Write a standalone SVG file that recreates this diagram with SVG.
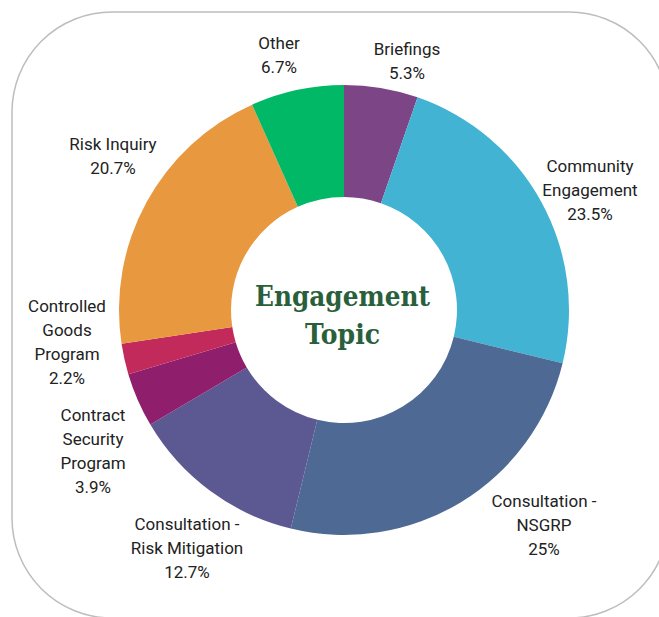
<svg xmlns="http://www.w3.org/2000/svg" width="659" height="617" viewBox="0 0 659 617">
<style>
.lbl{font-family:Roboto,"Liberation Sans",sans-serif;font-size:17px;fill:#222;text-anchor:middle}
.title{font-family:"DejaVu Serif","Liberation Serif",serif;font-weight:bold;font-size:27px;fill:#2a5f3c;text-anchor:middle}
</style>
<rect x="0" y="0" width="659" height="617" fill="#fff"/>
<rect x="12" y="12" width="657" height="606" rx="100" ry="100" fill="#fff" stroke="#bdbdbd" stroke-width="1.5"/>
<g id="slices">
<g id="briefings"><path d="M344,85 A225,225 0 0 1 417.55,97.35 L380.94,203.20 A113,113 0 0 0 344,197 Z" fill="#7b4586"/></g>
<g id="community"><path d="M417.55,97.35 A225,225 0 0 1 562.62,363.21 L453.79,336.72 A113,113 0 0 0 380.94,203.20 Z" fill="#42b3d3"/></g>
<g id="nsgrp"><path d="M562.62,363.21 A225,225 0 0 1 290.79,528.62 L317.28,419.79 A113,113 0 0 0 453.79,336.72 Z" fill="#4e6a94"/></g>
<g id="riskmitigation"><path d="M290.79,528.62 A225,225 0 0 1 150.33,424.53 L246.74,367.52 A113,113 0 0 0 317.28,419.79 Z" fill="#5c5891"/></g>
<g id="contractsecurity"><path d="M150.33,424.53 A225,225 0 0 1 128.33,374.13 L235.69,342.21 A113,113 0 0 0 246.74,367.52 Z" fill="#8f1f6c"/></g>
<g id="controlledgoods"><path d="M128.33,374.13 A225,225 0 0 1 121.55,343.80 L232.28,326.98 A113,113 0 0 0 235.69,342.21 Z" fill="#c12a5b"/></g>
<g id="riskinquiry"><path d="M121.55,343.80 A225,225 0 0 1 252.06,104.64 L297.82,206.86 A113,113 0 0 0 232.28,326.98 Z" fill="#e8983f"/></g>
<g id="other"><path d="M252.06,104.64 A225,225 0 0 1 344,85 L344,197 A113,113 0 0 0 297.82,206.86 Z" fill="#00b865"/></g>
</g>
<g id="center-title">
<text class="title" x="342.5" y="306" textLength="175" lengthAdjust="spacingAndGlyphs">Engagement</text>
<text class="title" x="342.5" y="344" textLength="75" lengthAdjust="spacingAndGlyphs">Topic</text>
</g>
<g id="labels">
<text class="lbl" x="279" y="49">Other</text>
<text class="lbl" x="279" y="73">6.7%</text>
<text class="lbl" x="407" y="55">Briefings</text>
<text class="lbl" x="407" y="79">5.3%</text>
<text class="lbl" x="113" y="150">Risk Inquiry</text>
<text class="lbl" x="113" y="174">20.7%</text>
<text class="lbl" x="590" y="172">Community</text>
<text class="lbl" x="590" y="196">Engagement</text>
<text class="lbl" x="590" y="220">23.5%</text>
<text class="lbl" x="67" y="312">Controlled</text>
<text class="lbl" x="67" y="336">Goods</text>
<text class="lbl" x="67" y="360">Program</text>
<text class="lbl" x="67" y="384">2.2%</text>
<text class="lbl" x="93" y="421">Contract</text>
<text class="lbl" x="93" y="445">Security</text>
<text class="lbl" x="93" y="469">Program</text>
<text class="lbl" x="93" y="493">3.9%</text>
<text class="lbl" x="187" y="530">Consultation -</text>
<text class="lbl" x="187" y="554">Risk Mitigation</text>
<text class="lbl" x="187" y="578">12.7%</text>
<text class="lbl" x="544" y="507">Consultation -</text>
<text class="lbl" x="544" y="531">NSGRP</text>
<text class="lbl" x="544" y="555">25%</text>
</g>
</svg>
